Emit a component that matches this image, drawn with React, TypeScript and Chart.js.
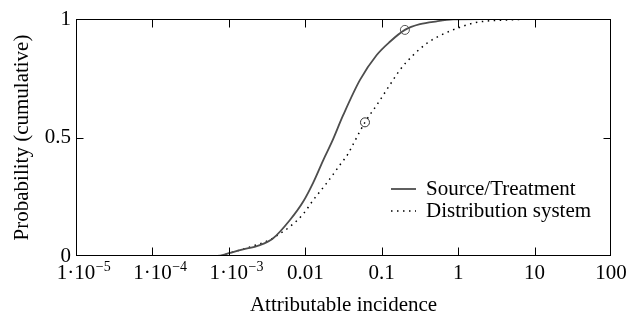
import React, { useEffect, useRef } from "react";
import { Chart, registerables } from "chart.js";

Chart.register(...registerables);

// ---- data ----
const sourceX = [1e-5, 1e-4, 7e-4, 0.001, 0.0014, 0.00255, 0.0038, 0.0063, 0.0094, 0.0127, 0.0172, 0.0222, 0.0314, 0.052, 0.086, 0.128, 0.201, 0.317, 0.524, 0.865, 2, 46];
const sourceY = [0, 0, 0, 0.012, 0.025, 0.046, 0.075, 0.152, 0.23, 0.31, 0.405, 0.48, 0.595, 0.743, 0.848, 0.904, 0.954, 0.978, 0.99, 0.998, 1, 1];

const distX = [1e-5, 1e-4, 7e-4, 0.001, 0.0014, 0.0019, 0.0038, 0.0044, 0.0063, 0.0094, 0.0127, 0.019, 0.0284, 0.0366, 0.0405, 0.0604, 0.086, 0.128, 0.173, 0.259, 0.388, 0.579, 0.957, 1.7, 4.6, 16, 46];
const distY = [0, 0, 0, 0.012, 0.025, 0.038, 0.075, 0.089, 0.124, 0.177, 0.236, 0.307, 0.384, 0.433, 0.46, 0.564, 0.637, 0.722, 0.785, 0.848, 0.897, 0.93, 0.96, 0.985, 0.996, 1, 1];

const sourceMarker = { x: 0.201, y: 0.954 };
const distMarker = { x: 0.0604, y: 0.564 };

const seriesNames = ["Source/Treatment", "Distribution system"];

const xTickValues = [1e-5, 1e-4, 1e-3, 0.01, 0.1, 1, 10, 100];
const xTickBase = ["1\u00b710", "1\u00b710", "1\u00b710", "0.01", "0.1", "1", "10", "100"];
const xTickExp = ["\u22125", "\u22124", "\u22123", "", "", "", "", ""];

const yTickValues = [0, 0.5, 1];
const yTickLabels = ["0", "0.5", "1"];

const xTitle = "Attributable incidence";
const yTitle = "Probability (cumulative)";

const FONT = '"Liberation Serif", "Times New Roman", serif';
const SOLID_COLOR = "#4d4d4d";

const toPoints = (xs: number[], ys: number[]) => xs.map((x, i) => ({ x, y: ys[i] }));

const decorPlugin = {
  id: "decor",
  afterDraw(chart: any) {
    const { ctx, chartArea: a, scales } = chart;
    const xs = scales.x;
    const ys = scales.y;
    ctx.save();
    // frame
    ctx.strokeStyle = "#000";
    ctx.lineWidth = 1;
    const L = Math.round(a.left) + 0.5;
    const R = Math.round(a.right) - 0.5;
    const T = Math.round(a.top) + 0.5;
    const B = Math.round(a.bottom) - 0.5;
    ctx.strokeRect(L, T, R - L, B - T);
    // inward ticks
    ctx.beginPath();
    xTickValues.forEach((v, i) => {
      if (i === 0 || i === xTickValues.length - 1) return;
      const px = Math.round(xs.getPixelForValue(v)) + 0.5;
      ctx.moveTo(px, B);
      ctx.lineTo(px, B - 8);
      ctx.moveTo(px, T);
      ctx.lineTo(px, T + 8);
    });
    yTickValues.forEach((v, i) => {
      if (i === 0 || i === yTickValues.length - 1) return;
      const py = Math.round(ys.getPixelForValue(v)) + 0.5;
      ctx.moveTo(L, py);
      ctx.lineTo(L + 7, py);
      ctx.moveTo(R, py);
      ctx.lineTo(R - 7, py);
    });
    ctx.stroke();

    // x tick labels with superscripts
    ctx.fillStyle = "#000";
    ctx.textBaseline = "alphabetic";
    ctx.textAlign = "left";
    xTickValues.forEach((v, i) => {
      const px = xs.getPixelForValue(v);
      ctx.font = `21px ${FONT}`;
      const base = xTickBase[i];
      const w = ctx.measureText(base).width;
      const x0 = px - w / 2;
      ctx.fillText(base, x0, 279);
      if (xTickExp[i]) {
        ctx.font = `14px ${FONT}`;
        ctx.fillText(xTickExp[i], x0 + w + 0.5, 271);
      }
    });

    // legend
    ctx.font = `21px ${FONT}`;
    ctx.textBaseline = "alphabetic";
    const lx0 = 391, lx1 = 416, tx = 426;
    const rows = [195, 217];
    ctx.strokeStyle = SOLID_COLOR;
    ctx.lineWidth = 1.8;
    ctx.setLineDash([]);
    ctx.beginPath();
    ctx.moveTo(lx0, rows[0] - 6);
    ctx.lineTo(lx1, rows[0] - 6);
    ctx.stroke();
    ctx.strokeStyle = "#000";
    ctx.lineWidth = 1.5;
    ctx.setLineDash([1.5, 4.5]);
    ctx.beginPath();
    ctx.moveTo(lx0, rows[1] - 6);
    ctx.lineTo(lx1, rows[1] - 6);
    ctx.stroke();
    ctx.setLineDash([]);
    ctx.fillText(seriesNames[0], tx, rows[0]);
    ctx.fillText(seriesNames[1], tx, rows[1]);
    ctx.restore();
  },
};

export default function App() {
  const ref = useRef<HTMLCanvasElement | null>(null);
  useEffect(() => {
    document.body.style.margin = "0";
    const canvas = ref.current;
    if (!canvas) return;
    const chart = new Chart(canvas, {
      type: "line",
      data: {
        datasets: [
          {
            label: seriesNames[0],
            data: toPoints(sourceX, sourceY),
            borderColor: SOLID_COLOR,
            borderWidth: 1.8,
            pointRadius: 0,
            cubicInterpolationMode: "monotone",
            fill: false,
          },
          {
            label: seriesNames[1],
            data: toPoints(distX, distY),
            borderColor: "#000",
            borderWidth: 1.5,
            borderDash: [1.5, 4.5],
            pointRadius: 0,
            cubicInterpolationMode: "monotone",
            fill: false,
          },
          {
            label: "m1",
            data: [sourceMarker],
            showLine: false,
            pointRadius: 4.5,
            pointBorderWidth: 1,
            pointBorderColor: "#555",
            pointBackgroundColor: "rgba(0,0,0,0)",
          },
          {
            label: "m2",
            data: [distMarker],
            showLine: false,
            pointRadius: 4.5,
            pointBorderWidth: 1,
            pointBorderColor: "#333",
            pointBackgroundColor: "rgba(0,0,0,0)",
          },
        ],
      },
      options: {
        animation: false,
        responsive: false,
        events: [],
        layout: { padding: { top: 19, right: 20, left: 0, bottom: 0 } },
        plugins: { legend: { display: false }, tooltip: { enabled: false } },
        scales: {
          x: {
            type: "logarithmic",
            min: 1e-5,
            max: 100,
            grid: { display: false, drawTicks: false },
            border: { display: false },
            ticks: { display: false },
            afterBuildTicks: (s: any) => {
              s.ticks = xTickValues.map((v) => ({ value: v }));
            },
            afterFit: (s: any) => {
              s.height = 60;
            },
            title: {
              display: true,
              text: xTitle,
              color: "#000",
              font: { family: FONT, size: 21, lineHeight: 1 },
              padding: { top: 0, bottom: 0 },
            },
          },
          y: {
            type: "linear",
            min: 0,
            max: 1,
            grid: { display: false, drawTicks: false },
            border: { display: false },
            afterBuildTicks: (s: any) => {
              s.ticks = yTickValues.map((v) => ({ value: v }));
            },
            ticks: {
              color: "#000",
              padding: 5,
              font: { family: FONT, size: 21 },
              callback: (v: any) => yTickLabels[yTickValues.indexOf(Number(v))],
            },
            afterFit: (s: any) => {
              s.width = 76;
            },
            title: {
              display: true,
              text: yTitle,
              color: "#000",
              font: { family: FONT, size: 21, lineHeight: 1 },
              padding: { top: 11.5, bottom: 0 },
            },
          },
        },
      },
      plugins: [decorPlugin],
    } as any);
    return () => chart.destroy();
  }, []);
  return (
    <div style={{ width: 631, height: 316 }}>
      <canvas ref={ref} width={631} height={316} style={{ display: "block" }} />
    </div>
  );
}
